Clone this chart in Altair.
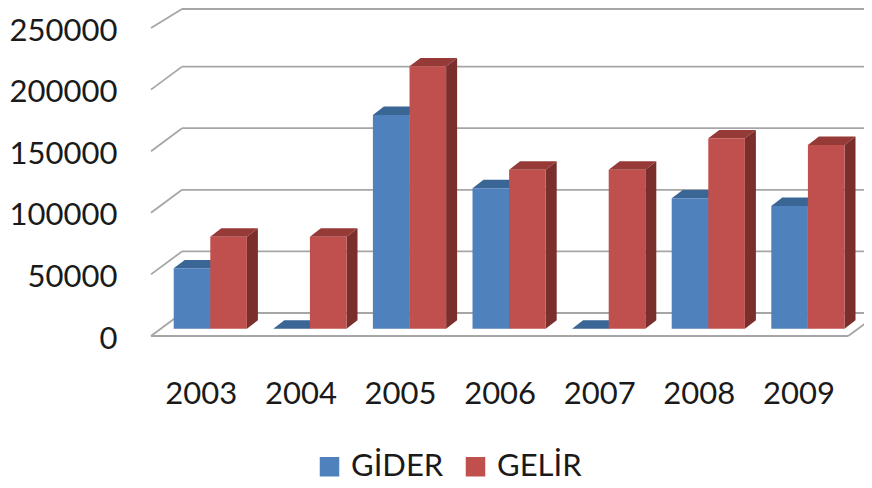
import altair as alt
import pandas as pd

years = [2003, 2004, 2005, 2006, 2007, 2008, 2009]
gider = [49000, 0, 173500, 114000, 0, 105800, 99600]
gelir = [74700, 74700, 213000, 129000, 129000, 154500, 149100]
ticks = [0, 50000, 100000, 150000, 200000, 250000]
series = ["GİDER", "GELİR"]
front = ["#4F81BD", "#C0504D"]
top_col = ["#3A6695", "#963A38"]
side_col = ["#2F527A", "#7A2F2D"]

PX = 99.6                 # pixels per category
VAL = 50000 / 61.6        # value per pixel
n = len(years)
xmax = 721 / PX
ymax = 336 * VAL
wall_dx, wall_dy = 31 / PX, 23 * VAL
bar_x, bar_w = 22.7 / PX, 36.6 / PX
base = 7.3 * VAL
dep_x, dep_y = 11 / PX, 8.4 * VAL
wall_top = ymax - 9 * VAL  # the page margin hides anything higher

bars, tops, sides = [], [], []
for i in range(n):
    for j, vals in enumerate([gider, gelir]):
        v = vals[i] + base
        x0 = i + bar_x + j * bar_w
        x1 = x0 + bar_w
        s = series[j]
        key = f"{i}-{j}"
        bars.append(dict(s=s, x=x0, x2=x1, y=base, y2=v))
        for px, a, b in [(x0, v, v), (x0 + dep_x, v + dep_y, v),
                         (x1, v + dep_y, v), (x1 + dep_x, v + dep_y, v + dep_y)]:
            tops.append(dict(k=key, s=s, x=px, y=a, y2=b))
        sides.append(dict(k=key, s=s, x=x1, y=v, y2=base))
        sides.append(dict(k=key, s=s, x=x1 + dep_x, y=v + dep_y, y2=base + dep_y))

grid = []
for t in ticks:
    back = min(t + wall_dy, wall_top)
    grid.append(dict(k=f"d{t}", x=0, y=t))
    grid.append(dict(k=f"d{t}", x=wall_dx, y=back))
    grid.append(dict(k=f"h{t}", x=wall_dx, y=back))
    grid.append(dict(k=f"h{t}", x=xmax, y=back))
grid += [dict(k="f", x=0, y=0), dict(k="f", x=n, y=0),
         dict(k="r", x=n, y=0), dict(k="r", x=n + wall_dx, y=wall_dy)]

FONT = "Lato"
FS = 31
TXT = "#1a1a1a"

xs = alt.Scale(domain=[0, xmax], nice=False, zero=False)
ys = alt.Scale(domain=[0, ymax], nice=False, zero=False)
X = alt.X("x:Q", scale=xs, title=None, axis=alt.Axis(
    values=[i + 0.5 for i in range(n)],
    labelExpr=f"'' + ({years[0]} + floor(datum.value))",
    domain=False, ticks=False, grid=False, labelFont=FONT, labelFontSize=FS,
    labelColor=TXT, labelPadding=43, labelOverlap=False, labelFlush=False, labelBound=False))
Y = alt.Y("y:Q", scale=ys, title=None, stack=None, axis=alt.Axis(
    values=ticks, format="d", domain=False, ticks=False, grid=False,
    labelFont=FONT, labelFontSize=FS, labelColor=TXT, labelPadding=34, labelOffset=3,
    labelOverlap=False, labelFlush=False, labelBound=False))

grid_layer = alt.Chart(pd.DataFrame(grid)).mark_line(color="#A6A6A6", strokeWidth=1.8).encode(
    x=X, y=Y, detail="k:N")
top_layer = alt.Chart(pd.DataFrame(tops)).mark_area(opacity=1).encode(
    x=X, y=Y, y2="y2:Q", detail="k:N",
    color=alt.Color("s:N", scale=alt.Scale(domain=series, range=top_col), legend=None))
side_layer = alt.Chart(pd.DataFrame(sides)).mark_area(opacity=1).encode(
    x=X, y=Y, y2="y2:Q", detail="k:N",
    color=alt.Color("s:N", scale=alt.Scale(domain=series, range=side_col), legend=None))
bar_layer = alt.Chart(pd.DataFrame(bars)).mark_bar(opacity=1).encode(
    x=X, x2="x2:Q", y=Y, y2="y2:Q",
    color=alt.Color("s:N", scale=alt.Scale(domain=series, range=front), title=None,
                    sort=series,
                    legend=alt.Legend(orient="none", legendX=163, legendY=451, direction="horizontal",
                                      columns=2, symbolType="square", symbolSize=380, symbolStrokeWidth=0,
                                      labelFont=FONT, labelFontSize=31, labelColor=TXT,
                                      labelOffset=6, columnPadding=16, title=None)))

chart = (alt.layer(grid_layer, top_layer, side_layer, bar_layer)
         .resolve_scale(color="independent")
         .properties(width=721, height=336, background="white",
                     padding={"left": 143, "top": -8, "right": -8, "bottom": 152},
                     autosize=alt.AutoSizeParams(type="none"))
         .configure_view(stroke=None))
chart.save("out.html", embed_options={"renderer": "svg", "actions": False})
